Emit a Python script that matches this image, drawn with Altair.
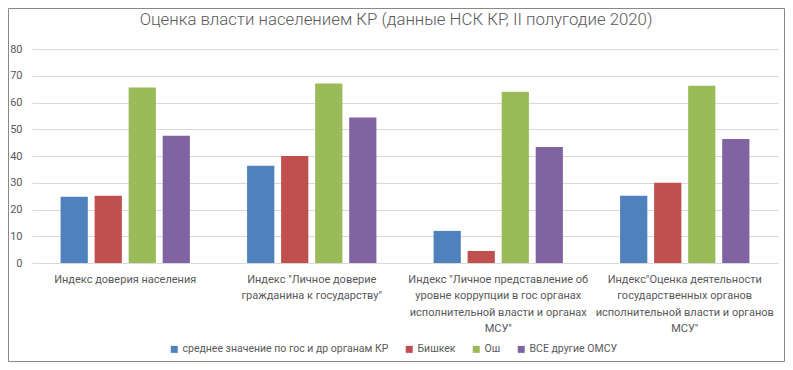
import altair as alt
import pandas as pd

categories = [
    "Индекс доверия населения",
    "Индекс \"Личное доверие\nгражданина к государству\"",
    "Индекс \"Личное представление об\nуровне коррупции в гос органах\nисполнительной власти и органах\nМСУ\"",
    "Индекс\"Оценка деятельности\nгосударственных органов\nисполнительной власти и органов\nМСУ\"",
]
series = [
    "среднее значение по гос и др органам КР",
    "Бишкек",
    "Ош",
    "ВСЕ другие ОМСУ",
]
values_avg = [24.8, 36.4, 12.0, 25.1]
values_bishkek = [25.1, 40.0, 4.5, 30.0]
values_osh = [65.6, 67.1, 64.0, 66.3]
values_other = [47.6, 54.4, 43.4, 46.4]
colors = ["#4F81BD", "#C0504D", "#9BBB59", "#8064A2"]
title_text = "Оценка власти населением КР (данные НСК КР, II полугодие 2020)"

rows = []
for s, vals in zip(series, [values_avg, values_bishkek, values_osh, values_other]):
    for c, v in zip(categories, vals):
        rows.append({"category": c, "series": s, "value": v})
df = pd.DataFrame(rows)

FONT = "Roboto"
GREY = "#595959"

bars = alt.Chart(df).mark_bar().encode(
    x=alt.X("category:N", sort=categories,
            scale=alt.Scale(paddingInner=0, paddingOuter=0),
            axis=alt.Axis(title=None, labelAngle=0, labelBaseline="top",
                          labelExpr="split(datum.label, '\\n')",
                          labelLineHeight=16.5, labelPadding=10, labelLimit=0,
                          labelFont=FONT, labelFontSize=11, labelColor=GREY,
                          ticks=False, domain=False, grid=False)),
    xOffset=alt.XOffset("series:N", sort=series,
                        scale=alt.Scale(paddingInner=0.2, paddingOuter=0.84)),
    y=alt.Y("value:Q",
            scale=alt.Scale(domain=[0, 80], nice=False),
            axis=alt.Axis(title=None, values=list(range(0, 81, 10)),
                          domain=False, ticks=False, labelPadding=10,
                          labelFont=FONT, labelFontSize=11, labelColor=GREY,
                          gridColor="#d9d9d9", gridWidth=1)),
    color=alt.Color("series:N", sort=series,
                    scale=alt.Scale(domain=series, range=colors),
                    legend=alt.Legend(title=None, orient="none", direction="horizontal",
                                      legendX=137, legendY=295,
                                      symbolType="square", symbolSize=49,
                                      symbolStrokeWidth=0, columnPadding=15,
                                      labelOffset=3, labelFont=FONT, labelLimit=0,
                                      labelFontSize=10.5, labelColor=GREY)),
)

title = alt.Chart(pd.DataFrame({"t": [title_text]})).mark_text(
    font=FONT, fontSize=16.8, fontWeight=300, color=GREY,
    align="center", baseline="middle"
).encode(
    text="t:N",
    x=alt.value(364), y=alt.value(-29),
)

border = alt.Chart(pd.DataFrame({"a": [0]})).mark_rect(
    fill="transparent", stroke="#898989", strokeWidth=1
).encode(
    x=alt.value(-23.5), x2=alt.value(752.5),
    y=alt.value(-40.5), y2=alt.value(312.5),
)

chart = alt.layer(bars, title, border).properties(
    width=746,
    height=214,
    autosize=alt.AutoSizeParams(type="none"),
    padding={"left": 24, "top": 41, "right": 7, "bottom": 99},
).configure_view(stroke=None)

chart.save("out.html", embed_options={"renderer": "svg", "actions": False})
